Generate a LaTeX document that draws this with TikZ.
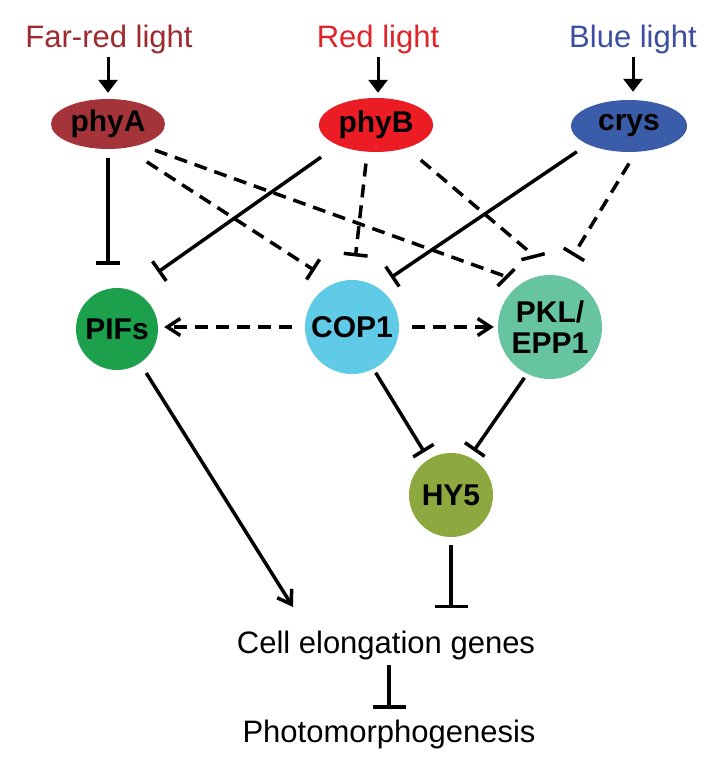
\documentclass[tikz,border=0pt]{standalone}
\usepackage{fontspec}
\setmainfont{Liberation Sans}
\usetikzlibrary{arrows.meta,shapes.geometric,calc}
\definecolor{farred}{HTML}{9E2A2F}
\definecolor{redl}{HTML}{E1232A}
\definecolor{bluel}{HTML}{3B4EA0}
\definecolor{cphyA}{HTML}{A5343A}
\definecolor{cphyB}{HTML}{EC1C24}
\definecolor{ccrys}{HTML}{3A5CA9}
\definecolor{cpifs}{HTML}{1CA04C}
\definecolor{ccop}{HTML}{5FCBE6}
\definecolor{cpkl}{HTML}{67C4A0}
\definecolor{chy}{HTML}{8DA83F}
\begin{document}
\begin{tikzpicture}[x=1pt,y=1pt,
  lighttxt/.style={font=\fontsize{31}{36}\selectfont, inner sep=0pt, anchor=base},
  phot/.style={ellipse, inner sep=0pt, font=\bfseries\fontsize{30}{32}\selectfont},
  prot/.style={circle, inner sep=0pt, font=\bfseries\fontsize{30}{31}\selectfont, align=center},
  link/.style={line width=3.5pt},
  dlink/.style={link, dash pattern=on 13pt off 8pt},
  inh/.style={-{Bar[width=24pt]}},
  inhbig/.style={-{Bar[width=33pt]}},
  act/.style={-{Straight Barb[length=13pt,width=17pt]}},
  lightarr/.style={line width=3pt,-{Triangle[length=13pt,width=19pt]}},
]
\fill[white] (0,0) rectangle (725,-775);
\useasboundingbox (0,0) rectangle (725,-775);

\node[lighttxt, text=farred] (far) at (109,-48) {Far-red light};
\node[lighttxt, text=redl] (red) at (378,-48) {Red light};
\node[lighttxt, text=bluel] (blue) at (633,-48) {Blue light};

\node[phot, fill=cphyA, minimum width=114pt, minimum height=50pt] (phyA) at (108,-124) {phyA};
\node[phot, fill=cphyB, minimum width=114pt, minimum height=54pt] (phyB) at (376,-125) {phyB};
\node[phot, fill=ccrys, minimum width=116pt, minimum height=52pt] (crys) at (629,-126) {crys};

\node[prot, fill=cpifs, minimum size=82pt] (PIFs) at (117,-329) {PIFs};
\node[prot, fill=ccop, minimum size=94pt] (COP1) at (352,-327) {COP1};
\node[prot, fill=cpkl, minimum size=104pt] (PKL) at (550,-327) {PKL/\\EPP1};
\node[prot, fill=chy, minimum size=84pt] (HY5) at (451,-495) {HY5};

\node[lighttxt] (cell) at (386,-653) {Cell elongation genes};
\node[lighttxt] (photo) at (389,-742) {Photomorphogenesis};
\coordinate (pifsEnd) at (293,-607);
\coordinate (aPKLend) at (504.5,-276);
\coordinate (bPKLend) at (532.5,-254.5);

% light inputs
\draw[lightarr, shorten <=2.5pt, shorten >=6pt] (far.south -| phyA.north) -- (phyA.north);
\draw[lightarr, shorten <=2.5pt, shorten >=5pt] (red.south) -- (red.south |- phyB.north);
\draw[lightarr, shorten <=2.5pt, shorten >=8pt] (blue.south) -- (blue.south |- crys.north);

% photoreceptor connections
\draw[link, inh, shorten <=9pt, shorten >=23pt] (phyA.south) -- (phyA.south |- PIFs.north);
\draw[link, inh, shorten <=20.6pt, shorten >=32pt] (phyB.208) -- (PIFs.69);
\draw[dlink, inh, shorten <=25.5pt, shorten >=23.6pt] (phyA.306) -- (COP1.112);
\draw[dlink, inh, shorten <=15.8pt] (phyA.327) -- (aPKLend) -- ++(2.8,-2.8);
\draw[dlink, inh, shorten <=11.8pt, shorten >=23.5pt] (phyB.252) -- (COP1.89);
\draw[dlink, inh, shorten <=18.7pt] (phyB.323) -- (bPKLend) -- ++(1,-3.9);
\draw[link, inh, shorten <=13pt, shorten >=16.9pt] (crys.204) -- (COP1.58);
\draw[dlink, inh, shorten <=13.4pt, shorten >=23.5pt] (crys.285) -- (PKL.78);

% COP1 effects
\draw[dlink, act, shorten <=13pt, shorten >=6pt] (COP1.west) -- (COP1.west -| PIFs.east);
\draw[dlink, act, shorten <=13pt, shorten >=4pt] (COP1.east) -- (COP1.east -| PKL.west);
\draw[link, inh, shorten <=4.3pt, shorten >=8.3pt] (COP1.297) -- (HY5.122);
\draw[link, inh, shorten <=4.7pt, shorten >=7.5pt] (PKL.244) -- (HY5.64);

% outputs
\draw[link, act, shorten <=11.7pt] (PIFs.304) -- (pifsEnd);
\draw[link, inhbig, shorten <=8pt, shorten >=22pt] (HY5.south) -- (HY5.south |- cell.north);
\draw[link, inhbig, shorten <=5.5pt, shorten >=10.4pt] (cell.south -| photo.north) -- (photo.north);
\end{tikzpicture}
\end{document}
